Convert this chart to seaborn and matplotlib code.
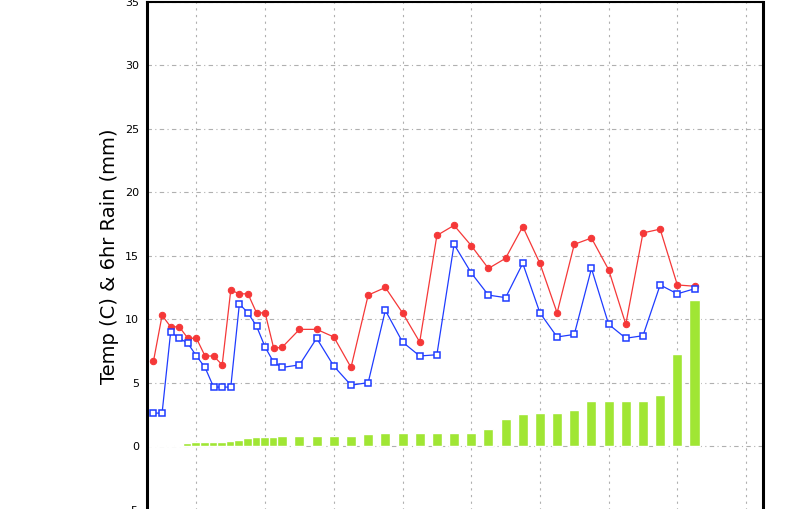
import numpy as np
import pandas as pd
import matplotlib
matplotlib.use("Agg")
import matplotlib.pyplot as plt
import seaborn as sns

# hours since first observation (6-hourly at first, then 12-hourly)
hours = [0, 6, 12, 18, 24, 30, 36, 42, 48, 54, 60, 66, 72, 78, 84, 90,
         102, 114, 126, 138, 150, 162, 174, 186, 198, 210, 222, 234,
         246, 258, 270, 282, 294, 306, 318, 330, 342, 354, 366, 378]

temp = [6.7, 10.3, 9.4, 9.4, 8.5, 8.5, 7.1, 7.1, 6.4, 12.3, 12.0, 12.0, 10.5, 10.5, 7.7, 7.8,
        9.2, 9.2, 8.6, 6.2, 11.9, 12.5, 10.5, 8.2, 16.6, 17.4, 15.8, 14.0,
        14.8, 17.3, 14.4, 10.5, 15.9, 16.4, 13.9, 9.6, 16.8, 17.1, 12.7, 12.6]

dewpoint = [2.6, 2.6, 9.0, 8.5, 8.1, 7.1, 6.2, 4.65, 4.65, 4.65, 11.2, 10.5, 9.45, 7.8, 6.6, 6.2,
            6.4, 8.5, 6.3, 4.8, 5.0, 10.7, 8.2, 7.1, 7.2, 15.9, 13.65, 11.9,
            11.7, 14.4, 10.5, 8.6, 8.8, 14.0, 9.6, 8.5, 8.7, 12.7, 12.0, 12.4]

rain = [0.08, 0.08, 0.08, 0.08, 0.24, 0.31, 0.31, 0.31, 0.31, 0.39, 0.47, 0.63, 0.71, 0.71, 0.71, 0.79,
        0.79, 0.79, 0.79, 0.79, 0.94, 1.02, 1.02, 1.02, 1.02, 1.02, 1.02, 1.34,
        2.13, 2.52, 2.6, 2.6, 2.83, 3.54, 3.54, 3.54, 3.54, 4.02, 7.24, 11.5]

y_ticks = [-5, 0, 5, 10, 15, 20, 25, 30, 35]
x_grid = [30, 78, 126, 174, 222, 270, 318, 366, 414]

df = pd.DataFrame({"hour": hours, "temp": temp, "dewpoint": dewpoint, "rain": rain})

sns.set_style("white")
plt.rcParams['font.family'] = ['DejaVu Sans']

fig = plt.figure(figsize=(8, 5.09), dpi=100)
ax = fig.add_axes([0.184, -0.001, 0.77, 0.997])

# rain bars
ax.bar(df["hour"], df["rain"], width=7, color="#a0e634", zorder=2)

# temperature and dewpoint
sns.lineplot(data=df, x="hour", y="temp", ax=ax, color="#f53838", linewidth=0.9,
             marker="o", markersize=4.6, markeredgecolor="#f53838", zorder=3)
sns.lineplot(data=df, x="hour", y="dewpoint", ax=ax, color="#1f3cff", linewidth=0.9,
             marker="s", markersize=4.6, markerfacecolor="white",
             markeredgecolor="#1f3cff", markeredgewidth=1.1, zorder=4)

ax.set_xlim(-4.4, 426)
ax.set_ylim(-5, 35)
ax.set_yticks(y_ticks)
ax.set_yticklabels([str(t) for t in y_ticks], fontsize=8, color="black")
ax.set_xticks(x_grid)
ax.set_xticklabels([])
ax.tick_params(axis="y", direction="out", length=3, width=0.8, pad=3, color="black")
ax.tick_params(axis="x", length=0)

ax.grid(False)
for t in y_ticks:
    ax.axhline(t, color="#b0b0b0", linewidth=0.8, linestyle=(0, (4, 3, 1, 3)), zorder=1)
for g in x_grid:
    ax.axvline(g, color="#b0b0b0", linewidth=0.8, linestyle=(0, (2, 4)), zorder=1)

ax.set_xlabel("")
ax.set_ylabel("Temp (C) & 6hr Rain (mm)", fontsize=14, labelpad=4, color="black")

for side in ["left", "right"]:
    ax.spines[side].set_linewidth(2.2)
    ax.spines[side].set_color("black")
ax.spines["top"].set_linewidth(1.5)
ax.spines["top"].set_linestyle((0, (2, 1)))
ax.spines["top"].set_color("black")
ax.spines["bottom"].set_visible(False)

fig.savefig("out.png", dpi=100)
